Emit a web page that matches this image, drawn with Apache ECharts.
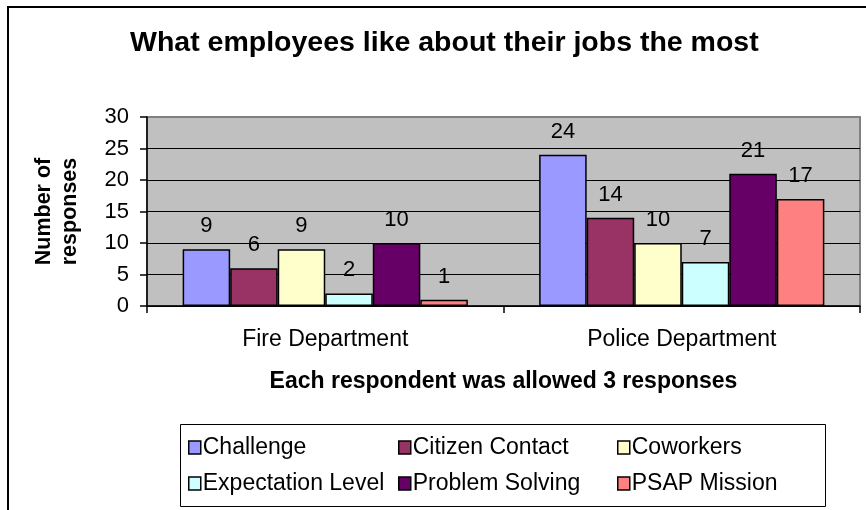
<!DOCTYPE html>
<html>
<head>
<meta charset="utf-8">
<script src="https://cdn.jsdelivr.net/npm/echarts@6/dist/echarts.min.js"></script>
<style>
html,body{margin:0;padding:0;background:#fff;}
#chart{width:866px;height:510px;}
</style>
</head>
<body>
<div id="chart"></div>
<script>
var categories = ['Fire Department', 'Police Department'];
var seriesNames = ['Challenge', 'Citizen Contact', 'Coworkers', 'Expectation Level', 'Problem Solving', 'PSAP Mission'];
var challenge = [9, 24];
var citizenContact = [6, 14];
var coworkers = [9, 10];
var expectationLevel = [2, 7];
var problemSolving = [10, 21];
var psapMission = [1, 17];
var yTicks = [0, 5, 10, 15, 20, 25, 30];

var colors = ['#9999FF', '#993366', '#FFFFCC', '#CCFFFF', '#660066', '#FF8080'];
var values = [challenge, citizenContact, coworkers, expectationLevel, problemSolving, psapMission];
var FONT = '"Liberation Sans", Arial, sans-serif';

var chart = echarts.init(document.getElementById('chart'), null, {renderer: 'canvas'});

var series = seriesNames.map(function (name, i) {
  return {
    name: name,
    type: 'bar',
    data: values[i],
    barGap: '0%',
    barCategoryGap: '20%',
    itemStyle: {color: colors[i], borderColor: '#000', borderWidth: 1.5},
    label: {
      show: true, position: 'top', distance: 12,
      color: '#000', fontSize: 22, fontFamily: FONT
    },
    emphasis: {disabled: true}
  };
});

function legendCol(left, names) {
  return {
    orient: 'vertical',
    left: left,
    top: 436,
    itemWidth: 12,
    itemHeight: 13,
    itemGap: 13,
    icon: 'rect',
    padding: 0,
    selectedMode: false,
    data: names,
    textStyle: {fontSize: 23, color: '#000', fontFamily: FONT, padding: [0, 0, 0, -3]},
    itemStyle: {borderColor: '#000', borderWidth: 1.5}
  };
}

var option = {
  animation: false,
  backgroundColor: '#fff',
  textStyle: {fontFamily: FONT},
  title: {
    text: 'What employees like about their jobs the most',
    left: 130,
    top: 29,
    padding: 0,
    textStyle: {fontSize: 28.5, fontWeight: 'bold', color: '#000', fontFamily: FONT}
  },
  legend: [
    legendCol(188, [seriesNames[0], seriesNames[3]]),
    legendCol(398, [seriesNames[1], seriesNames[4]]),
    legendCol(617, [seriesNames[2], seriesNames[5]])
  ],
  grid: {
    left: 147, right: 6, top: 117, bottom: 204,
    show: true, backgroundColor: '#C0C0C0',
    borderColor: '#808080', borderWidth: 2
  },
  xAxis: {
    type: 'category',
    data: categories,
    axisLine: {show: true, lineStyle: {color: '#000', width: 1.5}},
    axisTick: {show: true, length: 7, interval: 0, lineStyle: {color: '#000', width: 1.5}},
    axisLabel: {fontSize: 23, color: '#000', margin: 22, fontFamily: FONT},
    name: 'Each respondent was allowed 3 responses',
    nameLocation: 'middle',
    nameGap: 64,
    nameTextStyle: {fontSize: 23, fontWeight: 'bold', color: '#000', fontFamily: FONT}
  },
  yAxis: {
    type: 'value',
    min: yTicks[0],
    max: yTicks[yTicks.length - 1],
    interval: yTicks[1] - yTicks[0],
    axisLine: {show: true, lineStyle: {color: '#000', width: 1.5}},
    axisTick: {show: true, length: 7, lineStyle: {color: '#000', width: 1.5}},
    axisLabel: {fontSize: 22, color: '#000', margin: 18, fontFamily: FONT},
    splitLine: {show: true, showMaxLine: false, lineStyle: {color: '#000', width: 1.2}},
    name: 'Number of\nresponses',
    nameLocation: 'middle',
    nameGap: 64,
    nameRotate: 90,
    nameTextStyle: {fontSize: 21.5, fontWeight: 'bold', color: '#000', lineHeight: 26, align: 'center', fontFamily: FONT}
  },
  graphic: [
    {type: 'rect', silent: true, z: -1, shape: {x: 8, y: 7, width: 900, height: 600},
     style: {fill: 'none', stroke: '#000', lineWidth: 2}},
    {type: 'rect', silent: true, z: -1, shape: {x: 180.5, y: 424.5, width: 645, height: 82},
     style: {fill: '#fff', stroke: '#000', lineWidth: 1}}
  ],
  series: series
};
chart.setOption(option);
</script>
</body>
</html>
